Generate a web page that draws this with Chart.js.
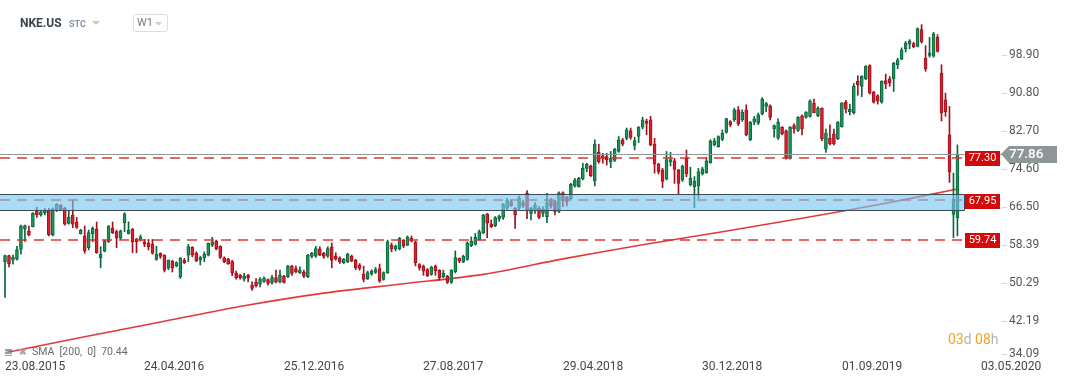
<!DOCTYPE html>
<html>
<head>
<meta charset="utf-8">
<title>NKE.US W1</title>
<script src="https://cdn.jsdelivr.net/npm/chart.js@4.4.1/dist/chart.umd.min.js"></script>
<style>
  html, body { margin: 0; padding: 0; background: #fff; }
  #wrap { position: relative; width: 1069px; height: 386px; }
</style>
</head>
<body>
<div id="wrap"><canvas id="nkeChart"></canvas></div>
<script>
// weekly candles, week 0 = 23.08.2015
const opens = [
  54.9, 56.2, 55.2, 55.45, 57.5, 61.9, 61.4, 62.35, 65.7, 64.85,
  65.35, 65.8, 60.6, 66.06, 67.0, 66.3, 63.07, 64.85, 63.36, 60.9,
  60.4, 57.9, 60.9, 61.8, 55.7, 57.15, 59.15, 62.0, 61.3, 59.9,
  63.2, 60.9, 61.8, 59.65, 59.65, 59.15, 58.8, 58.65, 55.4, 56.7,
  56.3, 53.5, 55.0, 54.0, 51.7, 55.2, 56.3, 57.95, 56.7, 55.2,
  55.7, 56.3, 58.4, 59.3, 58.2, 55.7, 55.45, 54.9, 52.5, 52.0,
  51.2, 52.0, 49.9, 50.5, 50.1, 50.7, 51.1, 50.4, 51.5, 50.6,
  51.8, 51.7, 53.95, 53.45, 52.5, 52.7, 51.7, 56.0, 56.1, 57.65,
  56.7, 56.1, 57.95, 56.1, 55.7, 54.7, 54.9, 56.1, 55.2, 54.2,
  52.2, 51.3, 52.25, 52.6, 53.45, 51.1, 52.5, 58.45, 57.6, 57.7,
  59.5, 58.45, 59.9, 59.1, 54.3, 53.95, 53.2, 52.2, 53.95, 53.1,
  51.7, 51.8, 50.5, 52.75, 55.6, 54.9, 55.4, 58.3, 58.6, 59.65,
  61.1, 65.1, 62.9, 62.6, 64.0, 64.35, 66.3, 67.7, 66.3, 66.3,
  67.5, 69.5, 65.2, 65.8, 66.3, 65.2, 64.5, 68.06, 67.7, 65.6,
  69.6, 68.6, 68.3, 71.05, 70.9, 72.55, 74.8, 75.3, 72.2, 78.25,
  77.5, 77.3, 76.25, 76.5, 78.4, 80.9, 81.2, 82.8, 79.7, 81.6,
  83.6, 84.9, 85.15, 80.0, 75.7, 74.5, 72.5, 76.2, 76.4, 74.5,
  72.33, 76.95, 71.3, 70.9, 71.05, 73.6, 73.9, 76.0, 79.8, 79.45,
  81.0, 82.45, 84.8, 85.15, 87.3, 85.15, 87.3, 80.9, 84.65, 84.45,
  86.4, 88.0, 88.15, 83.2, 81.25, 83.6, 82.8, 76.95, 83.9, 82.9,
  86.0, 85.65, 85.9, 88.7, 86.0, 87.65, 78.9, 81.2, 82.15, 81.1,
  83.7, 88.9, 86.9, 86.7, 93.35, 92.3, 93.9, 96.7, 91.1, 90.3,
  88.9, 93.5, 93.9, 93.85, 96.9, 98.1, 100.3, 101.3, 101.4, 100.8,
  104.4, 98.3, 98.9, 98.7, 102.75, 95.1, 89.4, 81.95, 65.0, 64.3
];
const highs = [
  56.3, 56.3, 56.3, 58.2, 62.7, 62.7, 62.5, 65.35, 66.5, 65.8,
  66.3, 66.3, 66.4, 67.3, 67.1, 66.5, 65.8, 68.06, 64.35, 61.8,
  62.5, 61.65, 62.35, 63.36, 58.1, 59.5, 62.6, 63.36, 61.65, 61.65,
  65.35, 63.4, 62.0, 59.9, 60.6, 59.65, 59.65, 59.65, 58.2, 56.8,
  56.4, 55.3, 55.2, 54.9, 55.8, 55.6, 58.6, 58.1, 57.0, 56.1,
  57.0, 58.9, 60.1, 59.5, 58.3, 55.95, 55.6, 55.2, 52.9, 52.2,
  52.4, 52.2, 50.6, 51.3, 51.5, 51.7, 51.25, 52.0, 53.1, 53.1,
  52.0, 54.1, 54.1, 53.95, 53.8, 53.1, 56.45, 56.9, 58.2, 58.1,
  56.9, 58.1, 58.9, 56.8, 55.95, 55.6, 56.7, 56.3, 55.4, 54.5,
  53.95, 52.9, 53.2, 53.7, 54.4, 52.75, 59.5, 58.9, 58.45, 60.1,
  59.65, 60.4, 60.4, 59.3, 54.5, 54.2, 53.45, 53.95, 54.2, 53.2,
  53.1, 52.0, 53.2, 57.2, 55.7, 56.3, 59.15, 60.2, 60.9, 61.65,
  65.0, 65.2, 63.8, 64.5, 64.85, 67.3, 68.4, 68.06, 66.5, 68.9,
  68.06, 70.05, 66.5, 67.5, 66.65, 66.65, 69.5, 68.4, 68.06, 69.8,
  69.8, 68.8, 71.6, 72.7, 72.9, 75.9, 75.9, 75.5, 80.9, 79.95,
  78.0, 78.0, 78.4, 79.1, 81.6, 81.2, 83.4, 83.4, 81.45, 83.7,
  85.7, 85.3, 85.9, 81.2, 75.9, 74.8, 78.4, 78.2, 76.95, 74.6,
  75.5, 78.7, 75.05, 73.05, 74.8, 75.05, 77.2, 80.9, 81.2, 81.75,
  83.0, 85.5, 85.0, 87.65, 88.0, 87.3, 88.35, 84.8, 85.85, 86.6,
  89.9, 88.9, 88.35, 84.1, 85.35, 83.7, 83.0, 83.7, 84.3, 85.85,
  86.2, 86.9, 89.4, 89.6, 88.0, 87.7, 83.2, 84.1, 83.2, 84.8,
  88.85, 89.3, 88.5, 92.9, 94.55, 94.55, 96.7, 96.9, 91.2, 90.5,
  93.5, 94.9, 94.4, 97.4, 98.3, 100.5, 101.9, 102.25, 101.7, 104.75,
  105.45, 100.97, 102.75, 103.8, 103.3, 96.9, 90.85, 88.0, 73.8, 79.8
];
const lows = [
  47.3, 53.8, 54.4, 55.2, 56.5, 59.2, 60.4, 62.3, 64.35, 64.6,
  64.85, 60.4, 60.4, 65.6, 65.8, 62.7, 62.9, 62.15, 62.0, 60.8,
  56.7, 57.4, 59.15, 56.7, 53.6, 57.0, 59.0, 60.9, 57.9, 59.65,
  61.3, 60.8, 56.8, 56.8, 59.3, 58.1, 57.4, 56.5, 55.2, 55.6,
  52.7, 53.2, 52.7, 53.8, 51.3, 54.5, 54.9, 55.95, 54.9, 54.2,
  54.9, 56.1, 58.1, 57.4, 55.6, 54.7, 54.3, 51.9, 51.2, 51.2,
  50.75, 50.6, 48.8, 49.5, 49.5, 50.5, 49.9, 50.1, 50.4, 50.4,
  50.3, 51.5, 52.0, 52.5, 52.4, 51.5, 51.5, 55.7, 55.8, 56.2,
  55.6, 55.8, 53.6, 55.2, 54.5, 54.5, 54.7, 54.9, 53.2, 53.1,
  50.6, 51.1, 52.0, 52.4, 50.5, 50.95, 52.4, 57.0, 57.2, 57.4,
  57.9, 58.3, 59.1, 54.0, 53.1, 52.0, 51.7, 52.0, 52.0, 51.0,
  51.5, 50.25, 50.25, 52.5, 54.7, 54.7, 55.2, 58.1, 58.45, 59.5,
  60.9, 60.0, 62.2, 62.35, 63.5, 63.9, 65.9, 66.7, 62.0, 65.9,
  66.5, 64.1, 63.8, 65.2, 64.1, 64.5, 63.2, 66.3, 64.85, 65.35,
  66.65, 66.8, 68.06, 70.8, 70.8, 72.33, 74.1, 73.05, 71.05, 75.9,
  75.9, 75.5, 74.95, 76.25, 78.2, 79.6, 80.9, 81.0, 78.75, 80.3,
  83.2, 81.95, 79.6, 73.8, 73.6, 70.7, 72.33, 75.3, 71.6, 69.35,
  72.0, 73.0, 71.05, 66.4, 68.4, 73.4, 73.75, 75.9, 79.6, 79.3,
  80.7, 82.3, 83.7, 84.8, 83.9, 84.8, 81.75, 80.7, 84.1, 84.1,
  86.2, 86.9, 85.15, 81.45, 81.0, 81.95, 76.75, 76.75, 82.3, 82.65,
  81.95, 85.5, 85.7, 86.6, 85.85, 80.7, 78.2, 79.8, 79.8, 80.9,
  83.6, 86.6, 86.2, 86.4, 90.4, 90.1, 93.7, 90.65, 88.7, 88.5,
  88.7, 91.8, 92.3, 91.2, 96.05, 97.95, 99.6, 100.3, 100.5, 100.7,
  101.5, 95.5, 98.5, 98.5, 99.6, 84.9, 85.9, 71.8, 60.0, 60.4
];
const closes = [
  56.2, 54.5, 55.9, 57.5, 62.5, 62.6, 60.6, 65.2, 64.85, 65.5,
  65.85, 60.6, 66.2, 67.2, 65.9, 62.9, 64.35, 62.9, 62.2, 61.65,
  57.2, 61.1, 62.0, 56.8, 56.5, 59.3, 62.5, 61.1, 59.9, 61.5,
  65.1, 61.65, 59.15, 59.15, 60.2, 58.65, 58.1, 56.7, 56.5, 56.0,
  53.1, 55.2, 53.5, 54.7, 55.6, 54.7, 58.1, 56.3, 55.1, 55.8,
  56.5, 58.8, 59.15, 57.7, 55.8, 54.9, 54.5, 52.5, 51.5, 51.5,
  51.8, 51.5, 49.2, 49.8, 51.2, 51.4, 50.25, 51.5, 50.6, 52.0,
  50.5, 53.95, 52.4, 52.75, 53.1, 51.8, 56.3, 56.7, 57.7, 56.3,
  56.0, 57.7, 55.2, 55.5, 54.9, 55.45, 56.5, 55.0, 53.6, 53.45,
  51.1, 52.6, 52.9, 53.2, 50.75, 52.6, 59.15, 57.6, 58.2, 59.9,
  58.2, 60.1, 59.3, 54.7, 53.6, 52.9, 51.9, 53.7, 52.95, 51.5,
  52.4, 50.5, 53.1, 55.8, 55.0, 56.1, 58.9, 59.3, 60.1, 61.3,
  64.85, 63.1, 62.35, 64.3, 64.65, 67.2, 68.06, 66.8, 64.85, 68.5,
  66.8, 65.9, 66.35, 67.0, 64.35, 66.1, 67.5, 66.8, 65.6, 69.6,
  67.9, 67.7, 71.4, 72.33, 72.7, 74.8, 75.7, 73.2, 80.0, 76.25,
  77.0, 76.6, 77.0, 78.9, 80.9, 79.95, 83.0, 81.4, 80.7, 83.6,
  85.15, 84.4, 79.8, 75.7, 74.1, 72.0, 76.7, 76.7, 74.6, 71.6,
  75.3, 73.6, 72.7, 72.1, 74.1, 74.7, 76.4, 80.65, 80.65, 81.6,
  82.3, 85.4, 84.1, 87.3, 84.3, 86.8, 81.95, 84.6, 85.35, 86.2,
  89.6, 88.6, 85.65, 83.9, 84.65, 82.15, 76.95, 83.6, 83.2, 85.7,
  83.2, 86.8, 89.2, 86.7, 87.65, 81.1, 82.3, 80.0, 80.0, 84.65,
  88.7, 87.4, 87.4, 92.3, 92.6, 94.4, 96.55, 90.85, 88.9, 89.2,
  93.35, 92.8, 93.1, 97.3, 97.95, 100.1, 101.5, 102.0, 100.7, 104.6,
  101.75, 96.0, 99.4, 103.5, 99.75, 86.6, 86.9, 73.97, 68.2, 77.86
];

// SMA 200
const smaWeeks  = [0, 20, 40, 60, 80, 100, 120, 140, 160, 180, 200, 220, 239];
const smaValues = [35.5, 38.9, 42.2, 45.5, 48.2, 50.2, 52.2, 55.5, 58.5, 61.3, 64.15, 67.2, 70.4];

// axes
const dateTicks  = [0, 35, 70, 105, 140, 175, 210, 245];
const dateLabels = ['23.08.2015', '24.04.2016', '25.12.2016', '27.08.2017', '29.04.2018', '30.12.2018', '01.09.2019', '03.05.2020'];
const priceTicks = [34.09, 42.19, 50.29, 58.39, 66.50, 74.60, 82.70, 90.80, 98.90];

// drawn levels
const levelLines = [77.30, 67.95, 59.74];
const zoneTop = 69.3;
const zoneBottom = 65.9;
const lastPrice = 77.86;
const smaLast = 70.44;

const FONT = 'Roboto, "Liberation Sans", sans-serif';
const upFill = '#1b955d', upEdge = '#0c663b';
const downFill = '#dc1f2e', downEdge = '#a0111d';

const weeks = opens.map((_, i) => i);
const isUp = weeks.map(i => closes[i] >= opens[i]);

function dashed(ctx, x0, x1, yy) {
  ctx.save();
  ctx.strokeStyle = 'rgba(222, 40, 40, 0.7)';
  ctx.lineWidth = 2;
  ctx.setLineDash([10, 7]);
  ctx.beginPath();
  ctx.moveTo(x0, yy);
  ctx.lineTo(x1, yy);
  ctx.stroke();
  ctx.restore();
}

function tri(ctx, x, y, w, h, col) {
  ctx.fillStyle = col;
  ctx.beginPath();
  ctx.moveTo(x, y);
  ctx.lineTo(x + w, y);
  ctx.lineTo(x + w / 2, y + h);
  ctx.closePath();
  ctx.fill();
}

const overlay = {
  id: 'overlay',
  afterDatasetsDraw(chart) {
    const { ctx, chartArea: area, scales: { x, y } } = chart;
    const lineEnd = 964;
    const py = v => Math.round(y.getPixelForValue(v)) + 0.5;

    ctx.save();

    // this level sits under the zone fill
    dashed(ctx, area.left, lineEnd, Math.round(y.getPixelForValue(levelLines[1])));

    // support zone
    const zt = py(zoneTop), zb = py(zoneBottom);
    ctx.fillStyle = 'rgba(118, 198, 240, 0.62)';
    ctx.fillRect(area.left, zt, lineEnd - area.left, zb - zt);
    ctx.strokeStyle = '#3f4b54';
    ctx.lineWidth = 1;
    ctx.beginPath();
    ctx.moveTo(area.left, zt);
    ctx.lineTo(lineEnd + 0.5, zt);
    ctx.lineTo(lineEnd + 0.5, zb);
    ctx.lineTo(area.left, zb);
    ctx.stroke();

    // current price line
    ctx.strokeStyle = '#8f979b';
    ctx.beginPath();
    ctx.moveTo(area.left, py(lastPrice));
    ctx.lineTo(1003, py(lastPrice));
    ctx.stroke();

    dashed(ctx, area.left, lineEnd, Math.round(y.getPixelForValue(levelLines[0])) + 1);
    dashed(ctx, area.left, lineEnd, Math.round(y.getPixelForValue(levelLines[2])) + 1);

    // level tags
    ctx.font = '11px ' + FONT;
    ctx.textBaseline = 'middle';
    ctx.textAlign = 'center';
    levelLines.forEach(v => {
      const yy = Math.round(y.getPixelForValue(v)) + 1;
      ctx.fillStyle = '#d20a0a';
      ctx.fillRect(965, yy - 7, 35, 15);
      ctx.fillStyle = '#fff';
      ctx.fillText(v.toFixed(2), 982.5, yy + 0.5);
    });

    // price arrow
    const ly = Math.round(y.getPixelForValue(lastPrice));
    ctx.fillStyle = '#8e9699';
    ctx.beginPath();
    ctx.moveTo(1001, ly);
    ctx.lineTo(1009, ly - 8);
    ctx.lineTo(1057, ly - 8);
    ctx.lineTo(1057, ly + 9);
    ctx.lineTo(1009, ly + 9);
    ctx.closePath();
    ctx.fill();
    ctx.fillStyle = '#fff';
    ctx.font = '500 13.5px ' + FONT;
    ctx.textAlign = 'left';
    ctx.fillText(lastPrice.toFixed(2), 1009, ly + 1);

    // price axis
    ctx.font = '12px ' + FONT;
    priceTicks.forEach(v => {
      const yy = Math.min(Math.round(y.getPixelForValue(v)), 354);
      ctx.strokeStyle = '#d4d4d4';
      ctx.beginPath();
      ctx.moveTo(1002, yy + 0.5);
      ctx.lineTo(1007, yy + 0.5);
      ctx.stroke();
      ctx.fillStyle = '#555';
      ctx.fillText(v.toFixed(2), 1009, yy);
    });

    // date axis
    ctx.fillStyle = '#454545';
    dateTicks.forEach((w, k) => {
      ctx.fillText(dateLabels[k], Math.round(x.getPixelForValue(w)), 367);
    });

    // header
    ctx.fillStyle = '#3a434c';
    ctx.font = 'bold 12px ' + FONT;
    ctx.fillText('NKE.US', 20, 24);
    ctx.fillStyle = '#8196a8';
    ctx.font = 'bold 9px ' + FONT;
    ctx.fillText('STC', 69, 24.5);
    tri(ctx, 92, 21, 8, 4, '#c9c9c9');
    ctx.strokeStyle = '#dddddd';
    ctx.beginPath();
    ctx.roundRect(133.5, 14.5, 34, 17, 2);
    ctx.stroke();
    ctx.fillStyle = '#7a7a7a';
    ctx.font = '11px ' + FONT;
    ctx.fillText('W1', 137, 23.5);
    tri(ctx, 155, 22, 7, 3.5, '#cccccc');

    // indicator legend
    ctx.fillStyle = '#9a9a9a';
    ctx.fillRect(5, 349, 7, 2);
    ctx.fillRect(5, 352, 7, 2);
    ctx.fillRect(5, 355, 7, 1);
    ctx.fillStyle = '#a8a8a8';
    ctx.font = 'bold 9px ' + FONT;
    ctx.fillText('\u2716', 19, 352.5);
    ctx.fillStyle = '#6b6b6b';
    ctx.font = '10.5px ' + FONT;
    ctx.fillText('SMA  [200,  0]  ' + smaLast.toFixed(2), 32, 352.5);

    // bar countdown
    ctx.font = '14px ' + FONT;
    let cx = 948;
    [['03', '#f5a31a'], ['d ', '#b4b4b4'], ['08', '#f5a31a'], ['h', '#b4b4b4']].forEach(([t, c]) => {
      ctx.fillStyle = c;
      ctx.fillText(t, cx, 340);
      cx += ctx.measureText(t).width;
    });

    ctx.restore();
  }
};

const ctx = document.getElementById('nkeChart').getContext('2d');

new Chart(ctx, {
  type: 'bar',
  data: {
    datasets: [
      {
        type: 'line',
        label: 'SMA 200',
        data: smaWeeks.map((w, k) => ({ x: w, y: smaValues[k] })),
        borderColor: '#e03a3a',
        borderWidth: 1.6,
        pointRadius: 0,
        tension: 0.3,
        order: 3
      },
      {
        label: 'wicks',
        data: weeks.map(i => ({ x: i, y: [lows[i], highs[i]] })),
        backgroundColor: isUp.map(u => u ? upEdge : downEdge),
        barThickness: 1,
        order: 2
      },
      {
        label: 'bodies',
        data: weeks.map(i => ({ x: i, y: [opens[i], closes[i]] })),
        backgroundColor: isUp.map(u => u ? upFill : downFill),
        borderColor: isUp.map(u => u ? upEdge : downEdge),
        borderWidth: 1,
        borderSkipped: false,
        barThickness: 3,
        minBarLength: 1,
        order: 1
      }
    ]
  },
  options: {
    responsive: true,
    maintainAspectRatio: false,
    animation: false,
    events: [],
    devicePixelRatio: 1,
    layout: { padding: { left: 0, right: 69, top: 10, bottom: 26 } },
    datasets: { bar: { grouped: false } },
    plugins: { legend: { display: false }, tooltip: { enabled: false } },
    scales: {
      x: { type: 'linear', min: -1.255, max: 249.68, offset: false, display: false },
      y: { type: 'linear', min: 33.94, max: 108.57, display: false }
    }
  },
  plugins: [overlay]
});
</script>
</body>
</html>
